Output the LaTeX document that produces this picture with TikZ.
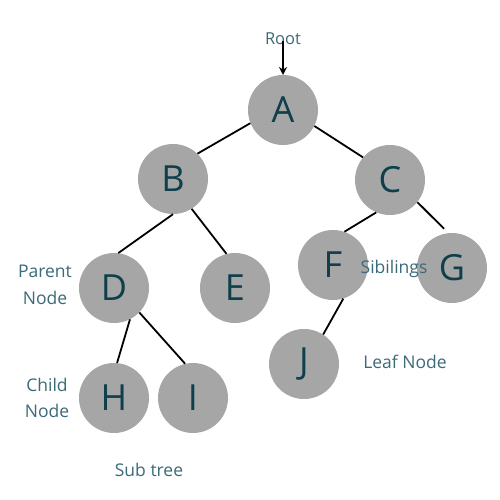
\documentclass[tikz,border=0pt]{standalone}
\usepackage{fontspec}
\setmainfont{Open Sans}
\usetikzlibrary{arrows.meta}
\definecolor{nodefill}{HTML}{A6A6A6}
\definecolor{lettercol}{HTML}{0E3F4B}
\definecolor{labelcol}{HTML}{3B6B78}
\begin{document}
\begin{tikzpicture}[x=1pt,y=-1pt,
  tnode/.style={circle,fill=nodefill,minimum size=70pt,inner sep=0pt,text=lettercol,font=\fontsize{36}{40}\selectfont},
  lbl/.style={text=labelcol,font=\fontsize{17.5}{26.5}\selectfont,align=center,inner sep=0pt},
  edge/.style={line width=1.8pt,black}]
\useasboundingbox[fill=white] (0,0) rectangle (500,500);
\node[tnode] (A) at (283,110) {A};
\node[tnode] (B) at (173,179) {B};
\node[tnode] (C) at (390,180) {C};
\node[tnode] (D) at (114,288) {D};
\node[tnode] (E) at (235,288) {E};
\node[tnode] (F) at (333,265) {F};
\node[tnode] (G) at (452,268) {G};
\node[tnode] (J) at (304,364) {J};
\node[tnode] (H) at (114,398) {H};
\node[tnode] (I) at (193,398) {I};
\draw[edge] (A.202) -- (B.46);
\draw[edge] (A.333) -- (C.140);
\draw[edge] (B.270) -- (D.83);
\draw[edge] (B.302) -- (E.104);
\draw[edge] (C.247) -- (F.71);
\draw[edge,shorten >=6pt] (C.321) -- (G.96);
\draw[edge] (F.287) -- (J.57);
\draw[edge] (D.297) -- (H.85);
\draw[edge] (D.316) -- (I.103);
\node[lbl,font=\fontsize{16.5}{20}\selectfont] (root) at (283,39) {Root};
\coordinate (rootend) at (283,75);
\draw[line width=1.6pt,-{Stealth[length=8pt,width=8pt]}] (root.south) ++(0,-4) -- (rootend);
\node[lbl] (parent) at (45,285) {Parent\\Node};
\node[lbl] (child) at (47,398) {Child\\Node};
\node[lbl] (sub) at (149,470) {Sub tree};
\node[lbl] (sib) at (394,269) {Sibilings};
\node[lbl] (leaf) at (405,362) {Leaf Node};
\end{tikzpicture}
\end{document}
